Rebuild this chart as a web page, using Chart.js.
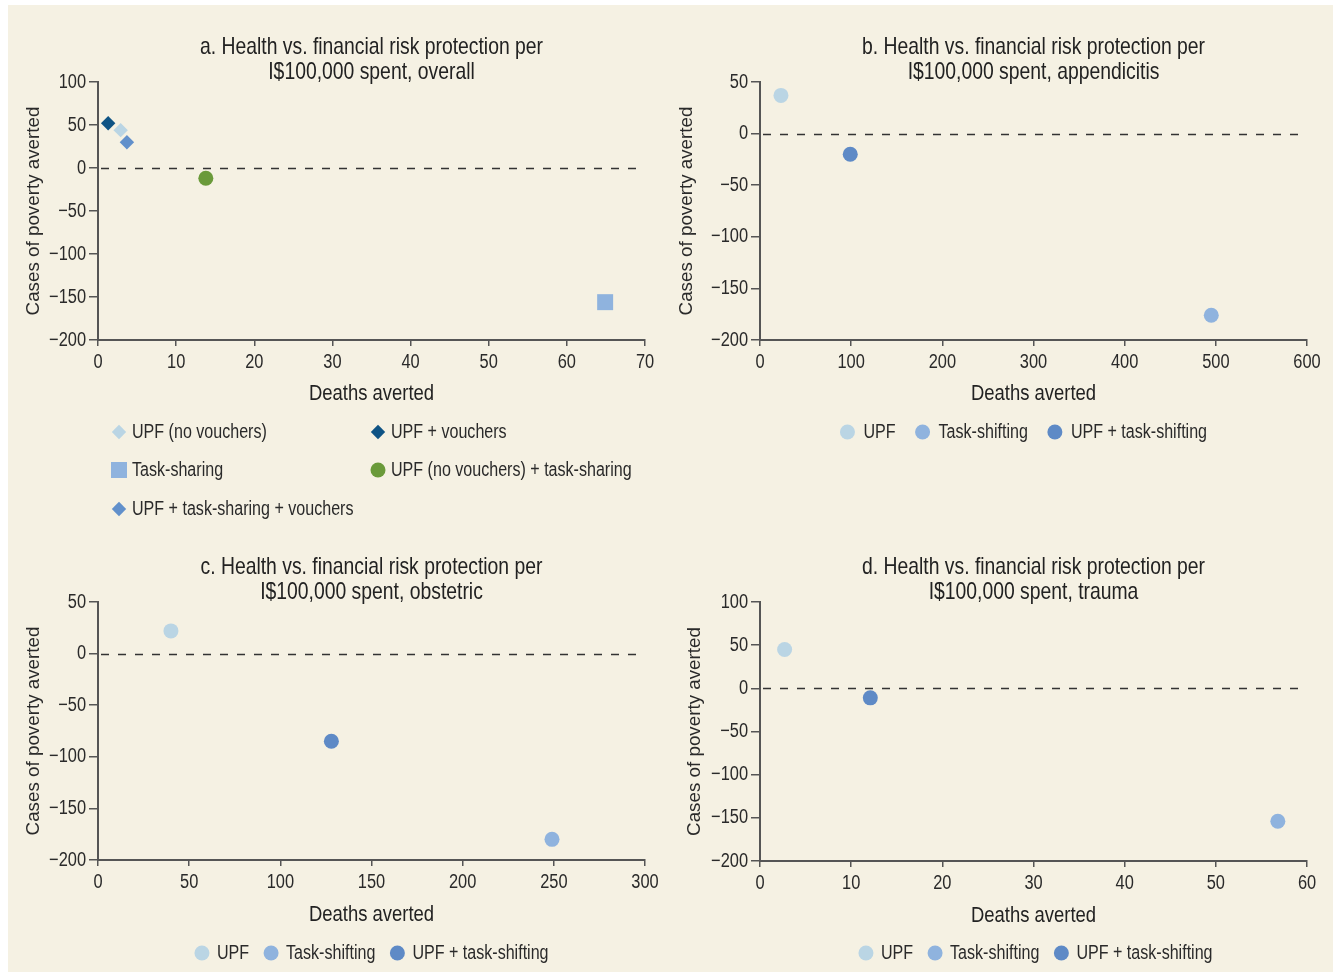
<!DOCTYPE html>
<html>
<head>
<meta charset="utf-8">
<script src="https://cdn.jsdelivr.net/npm/chart.js@4/dist/chart.umd.min.js"></script>
<style>
  html, body { margin: 0; padding: 0; background: #ffffff; }
  body { width: 1333px; height: 972px; position: relative; overflow: hidden; }
  #panel { position: absolute; left: 8px; top: 5px; right: 0; bottom: 0; background: #f5f1e3; }
  canvas { position: absolute; }
</style>
</head>
<body>
<div id="panel"></div>
<canvas id="chartA" width="657" height="535" style="left:8px;top:5px"></canvas>
<canvas id="chartB" width="668" height="535" style="left:665px;top:5px"></canvas>
<canvas id="chartC" width="657" height="432" style="left:8px;top:540px"></canvas>
<canvas id="chartD" width="668" height="432" style="left:665px;top:540px"></canvas>
<script>
// ---- Panel a: overall ----
const overallLabels = ['UPF (no vouchers)', 'UPF + vouchers', 'Task-sharing', 'UPF (no vouchers) + task-sharing', 'UPF + task-sharing + vouchers'];
const overallDeaths = [2.9, 1.3, 64.9, 13.8, 3.7];
const overallPoverty = [44, 52, -156, -12, 30];
const overallColors = ['#bad5e4', '#0e5384', '#8fb3de', '#6a9a3a', '#6190cb'];
const overallShapes = ['rectRot', 'rectRot', 'rect', 'circle', 'rectRot'];

// ---- Panels b–d: by condition ----
const strategyLabels = ['UPF', 'Task-shifting', 'UPF + task-shifting'];
const strategyColors = ['#bad5e4', '#8fb3de', '#5e8ac6'];

const appendicitisDeaths = [23, 495, 99];
const appendicitisPoverty = [37, -176, -20];

const obstetricDeaths = [40, 249, 128];
const obstetricPoverty = [22, -180, -85];

const traumaDeaths = [2.7, 56.8, 12.1];
const traumaPoverty = [45, -154, -11];

// Axis ranges: [min, max, step]
const xRangeA = [0, 70, 10], yRangeA = [-200, 100, 50];
const xRangeB = [0, 600, 100], yRangeB = [-200, 50, 50];
const xRangeC = [0, 300, 50], yRangeC = [-200, 50, 50];
const xRangeD = [0, 60, 10], yRangeD = [-200, 100, 50];

const titleA = ['a. Health vs. financial risk protection per', 'I$100,000 spent, overall'];
const titleB = ['b. Health vs. financial risk protection per', 'I$100,000 spent, appendicitis'];
const titleC = ['c. Health vs. financial risk protection per', 'I$100,000 spent, obstetric'];
const titleD = ['d. Health vs. financial risk protection per', 'I$100,000 spent, trauma'];

const xTitle = 'Deaths averted';
const yTitle = 'Cases of poverty averted';

// No condensed face is installed, so text set in NARROW is drawn with a
// horizontal squeeze; REGULAR (tagged by the Arial name) is drawn as-is.
const NARROW = '"Liberation Sans", sans-serif';
const REGULAR = 'Arial, "Liberation Sans", sans-serif';
const SQUEEZE = 0.82;
const TEXT = '#2a2a2a';
const AXIS = '#555555';

(function condenseText() {
  const proto = CanvasRenderingContext2D.prototype;
  const fill = proto.fillText;
  const measure = proto.measureText;
  const narrow = ctx => ctx.font.indexOf('Arial') === -1;
  proto.fillText = function (text, x, y, maxWidth) {
    if (!narrow(this)) {
      return maxWidth === undefined ? fill.call(this, text, x, y) : fill.call(this, text, x, y, maxWidth);
    }
    this.save();
    this.translate(x, y);
    this.scale(SQUEEZE, 1);
    if (maxWidth === undefined) fill.call(this, text, 0, 0);
    else fill.call(this, text, 0, 0, maxWidth / SQUEEZE);
    this.restore();
  };
  proto.measureText = function (text) {
    const m = measure.call(this, text);
    if (!narrow(this)) return m;
    return {
      width: m.width * SQUEEZE,
      actualBoundingBoxLeft: m.actualBoundingBoxLeft * SQUEEZE,
      actualBoundingBoxRight: m.actualBoundingBoxRight * SQUEEZE,
      actualBoundingBoxAscent: m.actualBoundingBoxAscent,
      actualBoundingBoxDescent: m.actualBoundingBoxDescent,
      fontBoundingBoxAscent: m.fontBoundingBoxAscent,
      fontBoundingBoxDescent: m.fontBoundingBoxDescent
    };
  };
})();

Chart.defaults.font.family = NARROW;
Chart.defaults.color = TEXT;

function shapeRadius(shape) {
  if (shape === 'rect') return 11.3;
  if (shape === 'rectRot') return 7.2;
  return 7.5;
}

function drawShape(ctx, shape, r, x, y) {
  ctx.beginPath();
  if (shape === 'rect') {
    const s = r * Math.SQRT1_2;
    ctx.rect(x - s, y - s, 2 * s, 2 * s);
  } else if (shape === 'rectRot') {
    ctx.moveTo(x - r, y); ctx.lineTo(x, y - r); ctx.lineTo(x + r, y); ctx.lineTo(x, y + r);
    ctx.closePath();
  } else {
    ctx.arc(x, y, r, 0, Math.PI * 2);
  }
  ctx.fill();
}

// Dashed reference line at zero poverty averted
const zeroLine = {
  id: 'zeroLine',
  beforeDatasetsDraw(chart) {
    const { ctx, chartArea, scales } = chart;
    const y = Math.round(scales.y.getPixelForValue(0)) + 0.5;
    ctx.save();
    ctx.strokeStyle = '#333333';
    ctx.lineWidth = 1.6;
    ctx.setLineDash([8, 9]);
    ctx.beginPath();
    ctx.moveTo(chartArea.left + 3, y);
    ctx.lineTo(chartArea.right, y);
    ctx.stroke();
    ctx.restore();
  }
};

// Legend below the axis, either as a grid of columns or a centred row
const markerLegend = {
  id: 'markerLegend',
  afterDraw(chart, args, opts) {
    const { ctx, chartArea } = chart;
    const items = chart.data.datasets.map(ds => ({
      text: ds.label, shape: ds.pointStyle, color: ds.backgroundColor,
      r: opts.radius || shapeRadius(ds.pointStyle)
    }));
    ctx.save();
    ctx.font = opts.font;
    ctx.textBaseline = 'middle';
    ctx.textAlign = 'left';
    if (opts.columns) {
      items.forEach((it, i) => {
        const col = i % opts.columns.length;
        const row = Math.floor(i / opts.columns.length);
        const cx = chartArea.left + opts.columns[col];
        const cy = chartArea.bottom + opts.rows[row];
        ctx.fillStyle = it.color;
        drawShape(ctx, it.shape, it.r, cx, cy);
        ctx.fillStyle = TEXT;
        ctx.fillText(it.text, cx + opts.textOffset, cy + 1);
      });
    } else {
      const widths = items.map(it => ctx.measureText(it.text).width);
      const r = items[0].r;
      let total = r;
      widths.forEach((w, i) => { total += opts.textOffset + w + (i < widths.length - 1 ? opts.itemGap : 0); });
      let cx = (chartArea.left + chartArea.right) / 2 - total / 2 + r + (opts.shift || 0);
      const cy = chartArea.bottom + opts.rowY;
      items.forEach((it, i) => {
        ctx.fillStyle = it.color;
        drawShape(ctx, it.shape, it.r, cx, cy);
        ctx.fillStyle = TEXT;
        ctx.fillText(it.text, cx + opts.textOffset, cy + 1);
        cx += opts.textOffset + widths[i] + opts.itemGap;
      });
    }
    ctx.restore();
  }
};

function minusTick(v) {
  return v < 0 ? '\u2212' + Math.abs(v) : String(v);
}

function buildChart(id, cfg) {
  const datasets = cfg.labels.map((label, i) => ({
    label,
    data: [{ x: cfg.deaths[i], y: cfg.poverty[i] }],
    pointStyle: cfg.shapes[i],
    pointRadius: shapeRadius(cfg.shapes[i]),
    pointHoverRadius: shapeRadius(cfg.shapes[i]),
    backgroundColor: cfg.colors[i],
    borderColor: cfg.colors[i],
    borderWidth: 0
  }));
  return new Chart(document.getElementById(id), {
    type: 'scatter',
    data: { datasets },
    plugins: [zeroLine, markerLegend],
    options: {
      responsive: false,
      animation: false,
      devicePixelRatio: 1,
      layout: { padding: { top: 0, left: 0, right: cfg.padRight, bottom: cfg.padBottom } },
      plugins: {
        legend: { display: false },
        tooltip: { enabled: false },
        title: {
          display: true,
          text: cfg.title,
          fullSize: false,
          color: '#222222',
          font: { family: NARROW, size: 23.6, lineHeight: '25px', weight: 'normal' },
          padding: { top: cfg.titleTop, bottom: -3 }
        },
        markerLegend: cfg.legend
      },
      scales: {
        x: {
          type: 'linear',
          min: cfg.xRange[0], max: cfg.xRange[1],
          afterFit(scale) { scale.height = cfg.xHeight; },
          ticks: { stepSize: cfg.xRange[2], padding: 4, font: { size: 20 }, color: TEXT, maxRotation: 0, callback: minusTick },
          grid: { drawOnChartArea: false, drawTicks: true, tickLength: 6, color: AXIS, lineWidth: 1.5 },
          border: { display: true, color: AXIS, width: 2 },
          title: { display: true, text: xTitle, font: { size: 22.5 }, color: '#222222', padding: { top: 0, bottom: 0 } }
        },
        y: {
          type: 'linear',
          min: cfg.yRange[0], max: cfg.yRange[1],
          afterFit(scale) { scale.width = cfg.yWidth; },
          ticks: { stepSize: cfg.yRange[2], padding: 3, font: { size: 20 }, color: TEXT, callback: minusTick },
          grid: { drawOnChartArea: false, drawTicks: true, tickLength: 9, color: AXIS, lineWidth: 1.5 },
          border: { display: true, color: AXIS, width: 2 },
          title: { display: true, text: yTitle, font: { family: REGULAR, size: 18.8 }, color: TEXT, padding: { top: cfg.yTitlePad, bottom: 0 } }
        }
      }
    }
  });
}

buildChart('chartA', {
  labels: overallLabels, deaths: overallDeaths, poverty: overallPoverty,
  colors: overallColors, shapes: overallShapes,
  title: titleA, xRange: xRangeA, yRange: yRangeA,
  titleTop: 30, yWidth: 90, yTitlePad: 15, xHeight: 67, padRight: 20, padBottom: 133,
  legend: { font: '19.6px ' + NARROW, columns: [21, 280], rows: [92, 130, 169], textOffset: 13 }
});

buildChart('chartB', {
  labels: strategyLabels, deaths: appendicitisDeaths, poverty: appendicitisPoverty,
  colors: strategyColors, shapes: ['circle', 'circle', 'circle'],
  title: titleB, xRange: xRangeB, yRange: yRangeB,
  titleTop: 30, yWidth: 95, yTitlePad: 11, xHeight: 67, padRight: 26, padBottom: 133,
  legend: { font: '19.6px ' + NARROW, textOffset: 16, itemGap: 27, rowY: 92, radius: 7.5, shift: -10 }
});

buildChart('chartC', {
  labels: strategyLabels, deaths: obstetricDeaths, poverty: obstetricPoverty,
  colors: strategyColors, shapes: ['circle', 'circle', 'circle'],
  title: titleC, xRange: xRangeC, yRange: yRangeC,
  titleTop: 15, yWidth: 90, yTitlePad: 15, xHeight: 68, padRight: 20, padBottom: 44,
  legend: { font: '19.6px ' + NARROW, textOffset: 15, itemGap: 22, rowY: 93, radius: 7.5, shift: 0 }
});

buildChart('chartD', {
  labels: strategyLabels, deaths: traumaDeaths, poverty: traumaPoverty,
  colors: strategyColors, shapes: ['circle', 'circle', 'circle'],
  title: titleD, xRange: xRangeD, yRange: yRangeD,
  titleTop: 15, yWidth: 95, yTitlePad: 19, xHeight: 68, padRight: 26, padBottom: 43,
  legend: { font: '19.6px ' + NARROW, textOffset: 15, itemGap: 22, rowY: 92, radius: 7.5, shift: 2 }
});
</script>
</body>
</html>
